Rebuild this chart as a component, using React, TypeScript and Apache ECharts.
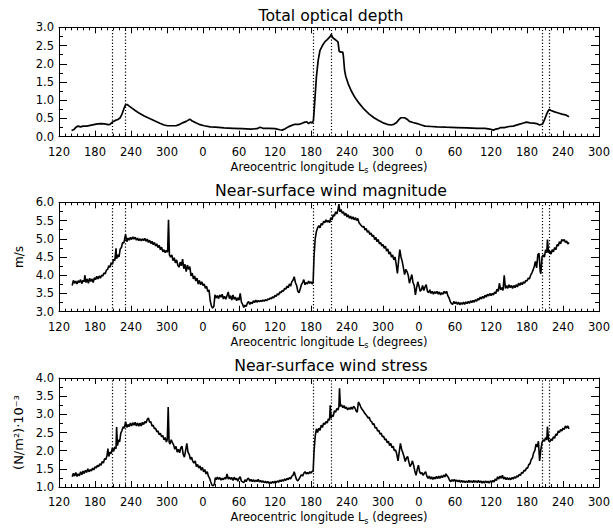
import React, { useEffect, useRef } from "react";
import * as echarts from "echarts";

const FONT = "DejaVu Sans";

// Continuous areocentric longitude (Ls + 360 * year offset) and values
const panelTitles = ["Total optical depth", "Near-surface wind magnitude", "Near-surface wind stress"];
const yNames = ["", "m/s", "(N/m²)·10⁻³"];
const yRanges: [number, number][] = [[0, 3], [3, 6], [1, 4]];
const xMin = 120;
const xMax = 1020;
const xStep = 60;
const dustStormLs = [209, 231, 543.5, 573, 925.5, 937.5];

const opticalDepth: [number, number][] = [
  [141, 0.17], [145, 0.2], [149, 0.27], [152, 0.29], [156, 0.27], [160, 0.29], [166, 0.29], [172, 0.31],
  [178, 0.33], [184, 0.35], [190, 0.36], [196, 0.35], [202, 0.33], [205, 0.34], [209, 0.4], [213, 0.44],
  [218, 0.47], [222, 0.52], [225, 0.62], [228, 0.76], [231, 0.88], [234, 0.88], [237, 0.84], [241, 0.79],
  [247, 0.72], [254, 0.64], [262, 0.57], [271, 0.5], [280, 0.43], [288, 0.37], [295, 0.32], [301, 0.3],
  [308, 0.3], [315, 0.3], [320, 0.33], [326, 0.38], [332, 0.42], [338, 0.48], [342, 0.43], [348, 0.38],
  [355, 0.33], [362, 0.3], [372, 0.27], [381, 0.26], [395, 0.24], [410, 0.23], [425, 0.22], [440, 0.21],
  [450, 0.22], [455, 0.26], [460, 0.23], [470, 0.23], [480, 0.22], [488, 0.19], [492, 0.18], [497, 0.22],
  [502, 0.27], [508, 0.31], [513, 0.34], [520, 0.34], [524, 0.36], [530, 0.4], [533, 0.41], [536, 0.36],
  [539, 0.4], [542, 0.38], [544, 0.44], [546, 0.9], [549, 1.64], [552, 2.1], [555, 2.37], [559, 2.5],
  [563, 2.6], [567, 2.66], [571, 2.73], [574, 2.8], [576, 2.72], [579, 2.68], [582, 2.64], [585, 2.6],
  [587, 2.34], [590, 2.32], [593, 2.32], [594, 2.2], [596, 1.82], [598, 1.65], [602, 1.45], [607, 1.26],
  [613, 1.08], [620, 0.92], [628, 0.76], [637, 0.62], [645, 0.52], [652, 0.45], [660, 0.38], [667, 0.34],
  [673, 0.32], [678, 0.34], [682, 0.38], [686, 0.46], [690, 0.52], [696, 0.52], [700, 0.48], [704, 0.42],
  [710, 0.39], [717, 0.36], [724, 0.32], [730, 0.29], [740, 0.28], [750, 0.27], [765, 0.26], [783, 0.25],
  [800, 0.24], [817, 0.23], [830, 0.23], [838, 0.21], [844, 0.18], [848, 0.21], [852, 0.22], [856, 0.25],
  [862, 0.25], [870, 0.28], [877, 0.29], [885, 0.33], [893, 0.37], [899, 0.4], [905, 0.38], [911, 0.37],
  [916, 0.36], [921, 0.32], [926, 0.35], [929, 0.46], [932, 0.59], [935, 0.7], [937, 0.75], [940, 0.72],
  [946, 0.68], [952, 0.65], [958, 0.62], [964, 0.6], [970, 0.55],
];

const windMagnitude: [number, number][] = [
  [142, 3.72], [144, 3.86], [146, 3.78], [148, 3.84], [150, 3.76], [152, 3.85], [154, 3.8], [156, 3.88],
  [158, 3.77], [160, 3.86], [162, 3.82], [163, 4.0], [165, 3.8], [167, 3.9], [169, 3.78], [171, 3.92],
  [173, 3.83], [175, 3.9], [177, 3.8], [179, 3.93], [181, 3.88], [183, 3.97], [185, 3.9], [187, 3.98],
  [189, 3.92], [191, 4.0], [193, 3.98], [195, 4.06], [197, 4.04], [199, 4.14], [201, 4.16], [203, 4.26],
  [205, 4.22], [207, 4.34], [209, 4.3], [211, 4.44], [213, 4.4], [215, 4.74], [216, 4.45], [218, 4.56],
  [220, 4.5], [222, 4.72], [224, 4.76], [226, 4.9], [228, 4.88], [230, 5.04], [231, 5.12], [233, 4.92],
  [235, 5.02], [237, 4.96], [239, 5.04], [241, 4.98], [243, 5.05], [245, 4.99], [247, 5.04], [249, 4.96],
  [251, 5.02], [253, 4.95], [255, 5.0], [257, 4.94], [259, 5.0], [261, 4.95], [263, 5.01], [265, 4.93],
  [267, 4.99], [269, 4.9], [271, 4.96], [273, 4.87], [275, 4.93], [277, 4.84], [279, 4.9], [281, 4.8],
  [283, 4.86], [285, 4.76], [287, 4.82], [289, 4.7], [291, 4.77], [293, 4.64], [295, 4.7], [297, 4.62],
  [299, 4.68], [301, 4.63], [302.5, 5.52], [304, 4.56], [306, 4.5], [308, 4.56], [310, 4.4], [312, 4.48],
  [314, 4.34], [316, 4.42], [318, 4.28], [320, 4.22], [322, 4.36], [324, 4.26], [326, 4.44], [328, 4.18],
  [330, 4.3], [332, 4.1], [334, 4.28], [336, 4.16], [338, 4.24], [340, 3.98], [342, 4.06], [344, 3.9],
  [346, 3.98], [348, 3.84], [350, 3.92], [352, 3.76], [354, 3.86], [356, 3.74], [358, 3.82], [360, 3.72],
  [362, 3.76], [364, 3.64], [366, 3.7], [368, 3.55], [370, 3.6], [372, 3.3], [374, 3.16], [376, 3.1],
  [378, 3.14], [380, 3.46], [382, 3.38], [384, 3.44], [386, 3.36], [388, 3.46], [390, 3.4], [392, 3.48],
  [394, 3.35], [396, 3.42], [398, 3.34], [400, 3.44], [402, 3.54], [404, 3.36], [406, 3.44], [408, 3.32],
  [410, 3.46], [412, 3.34], [414, 3.4], [416, 3.3], [418, 3.38], [420, 3.32], [422, 3.5], [424, 3.26],
  [426, 3.2], [428, 3.12], [430, 3.18], [432, 3.14], [434, 3.24], [436, 3.28], [438, 3.2], [440, 3.26],
  [442, 3.22], [444, 3.3], [446, 3.25], [448, 3.32], [450, 3.26], [452, 3.31], [454, 3.27], [456, 3.31],
  [458, 3.28], [460, 3.32], [462, 3.29], [464, 3.33], [466, 3.3], [468, 3.35], [470, 3.33], [472, 3.38],
  [474, 3.35], [476, 3.41], [478, 3.38], [480, 3.45], [482, 3.42], [484, 3.49], [486, 3.46], [488, 3.54],
  [490, 3.52], [492, 3.58], [494, 3.56], [496, 3.64], [498, 3.62], [500, 3.7], [502, 3.66], [504, 3.76],
  [506, 3.7], [508, 3.82], [510, 3.86], [512, 3.96], [514, 3.8], [516, 3.72], [518, 3.56], [520, 3.52],
  [522, 3.62], [524, 3.74], [526, 3.8], [528, 3.88], [530, 3.74], [532, 3.8], [534, 3.76], [536, 3.84],
  [538, 3.78], [540, 3.82], [542, 3.76], [543.5, 3.8], [545, 4.5], [547, 5.0], [549, 5.2], [551, 5.3],
  [553, 5.36], [555, 5.3], [557, 5.42], [559, 5.38], [561, 5.48], [563, 5.44], [565, 5.52], [567, 5.46],
  [569, 5.5], [571, 5.44], [573, 5.58], [575, 5.52], [577, 5.66], [579, 5.62], [581, 5.74], [583, 5.68],
  [585, 5.8], [586.5, 5.95], [588, 5.74], [590, 5.8], [592, 5.7], [594, 5.74], [596, 5.64], [598, 5.7],
  [600, 5.6], [602, 5.66], [604, 5.56], [606, 5.62], [608, 5.54], [610, 5.6], [612, 5.52], [614, 5.58],
  [616, 5.5], [618, 5.56], [620, 5.44], [622, 5.4], [624, 5.36], [626, 5.32], [628, 5.34], [630, 5.24],
  [632, 5.28], [634, 5.18], [636, 5.22], [638, 5.12], [640, 5.16], [642, 5.06], [644, 5.1], [646, 4.98],
  [648, 5.04], [650, 4.92], [652, 4.98], [654, 4.86], [656, 4.9], [658, 4.8], [660, 4.84], [662, 4.74],
  [664, 4.8], [666, 4.66], [668, 4.72], [670, 4.58], [672, 4.64], [674, 4.5], [676, 4.56], [678, 4.42],
  [680, 4.5], [682, 4.3], [684, 4.05], [686, 4.4], [688, 4.7], [690, 4.5], [692, 4.38], [694, 4.2],
  [696, 4.02], [698, 4.16], [700, 4.1], [702, 4.0], [704, 3.78], [706, 3.9], [708, 4.02], [710, 3.8],
  [712, 3.72], [714, 3.46], [716, 3.66], [718, 3.82], [720, 3.7], [722, 3.56], [724, 3.6], [726, 3.72],
  [728, 3.58], [730, 3.68], [732, 3.74], [734, 3.56], [736, 3.52], [738, 3.6], [740, 3.5], [742, 3.56],
  [744, 3.48], [746, 3.55], [748, 3.5], [750, 3.56], [752, 3.48], [754, 3.54], [756, 3.46], [758, 3.52],
  [760, 3.48], [762, 3.56], [764, 3.5], [766, 3.56], [768, 3.44], [770, 3.38], [772, 3.28], [774, 3.22],
  [776, 3.2], [778, 3.28], [780, 3.22], [782, 3.27], [784, 3.2], [786, 3.26], [788, 3.19], [790, 3.25],
  [792, 3.2], [794, 3.26], [796, 3.2], [798, 3.27], [800, 3.22], [802, 3.28], [804, 3.23], [806, 3.3],
  [808, 3.25], [810, 3.31], [812, 3.26], [814, 3.33], [816, 3.29], [818, 3.36], [820, 3.32], [822, 3.4],
  [824, 3.35], [826, 3.42], [828, 3.37], [830, 3.45], [832, 3.4], [834, 3.48], [836, 3.43], [838, 3.5],
  [840, 3.44], [842, 3.5], [844, 3.46], [846, 3.54], [848, 3.5], [850, 3.62], [852, 3.56], [854, 3.78],
  [856, 3.6], [858, 3.66], [860, 3.58], [862, 4.0], [864, 3.64], [866, 3.72], [868, 3.64], [870, 3.74],
  [872, 3.66], [874, 3.72], [876, 3.64], [878, 3.72], [880, 3.66], [882, 3.74], [884, 3.68], [886, 3.78],
  [888, 3.72], [890, 3.8], [892, 3.74], [894, 3.82], [896, 3.78], [898, 3.86], [900, 3.84], [902, 3.92],
  [904, 3.9], [906, 4.0], [908, 4.06], [910, 4.14], [912, 4.24], [914, 4.38], [916, 4.2], [918, 4.56],
  [920, 4.6], [922, 4.1], [923, 4.04], [925, 4.5], [927, 4.56], [929, 4.5], [931, 4.7], [933, 4.62],
  [934, 4.98], [936, 4.62], [938, 4.66], [940, 4.58], [942, 4.7], [944, 4.64], [946, 4.76], [948, 4.7],
  [950, 4.84], [952, 4.8], [954, 4.92], [956, 4.86], [958, 4.98], [960, 4.94], [962, 4.98], [964, 4.9],
  [966, 4.94], [968, 4.86], [970, 4.9],
];

const windStress: [number, number][] = [
  [142, 1.28], [144, 1.38], [146, 1.3], [148, 1.4], [150, 1.29], [152, 1.36], [154, 1.31], [156, 1.42],
  [158, 1.34], [160, 1.44], [162, 1.37], [164, 1.46], [166, 1.4], [168, 1.5], [170, 1.42], [172, 1.48],
  [174, 1.44], [176, 1.52], [178, 1.47], [180, 1.56], [182, 1.52], [184, 1.6], [186, 1.56], [188, 1.64],
  [190, 1.6], [192, 1.7], [194, 1.66], [196, 1.78], [198, 1.76], [200, 1.86], [201.5, 2.06], [203, 1.84],
  [205, 1.96], [207, 1.92], [209, 2.08], [211, 1.98], [213, 2.1], [215, 2.05], [216, 2.65], [217.5, 2.14],
  [219, 2.3], [221, 2.24], [223, 2.48], [225, 2.56], [227, 2.66], [229, 2.62], [231, 2.8], [233, 2.64],
  [235, 2.72], [237, 2.66], [239, 2.76], [241, 2.68], [243, 2.77], [245, 2.7], [247, 2.78], [249, 2.68],
  [251, 2.76], [253, 2.67], [255, 2.76], [257, 2.68], [259, 2.78], [261, 2.72], [263, 2.8], [265, 2.76],
  [267, 2.86], [269, 2.9], [271, 2.78], [273, 2.8], [275, 2.68], [277, 2.7], [279, 2.6], [281, 2.62],
  [283, 2.52], [285, 2.54], [287, 2.44], [289, 2.48], [291, 2.38], [293, 2.42], [295, 2.3], [297, 2.36],
  [299, 2.24], [300.5, 2.3], [302, 3.2], [303.5, 2.24], [305, 2.18], [307, 2.3], [309, 2.22], [311, 2.16],
  [313, 2.04], [315, 2.12], [317, 1.96], [319, 2.04], [321, 1.94], [323, 2.08], [325, 2.12], [327, 1.9],
  [329, 1.82], [331, 2.0], [333, 2.2], [335, 1.96], [337, 1.9], [339, 1.76], [341, 1.82], [343, 1.7],
  [345, 1.66], [347, 1.72], [349, 1.56], [351, 1.62], [353, 1.52], [355, 1.58], [357, 1.46], [359, 1.54],
  [361, 1.42], [363, 1.48], [365, 1.36], [367, 1.42], [369, 1.3], [371, 1.24], [373, 1.14], [375, 1.05],
  [377, 1.03], [379, 1.08], [380.5, 1.26], [382, 1.2], [384, 1.27], [386, 1.21], [388, 1.26], [390, 1.19],
  [392, 1.24], [394, 1.2], [396, 1.26], [398, 1.22], [400, 1.36], [402, 1.22], [404, 1.27], [406, 1.21],
  [408, 1.26], [410, 1.18], [412, 1.27], [414, 1.2], [416, 1.24], [418, 1.16], [420, 1.24], [422, 1.28],
  [424, 1.16], [426, 1.14], [428, 1.12], [430, 1.2], [432, 1.15], [434, 1.22], [436, 1.24], [438, 1.16],
  [440, 1.21], [442, 1.15], [444, 1.2], [446, 1.14], [448, 1.19], [450, 1.15], [452, 1.21], [454, 1.14],
  [456, 1.18], [458, 1.13], [460, 1.17], [462, 1.12], [464, 1.16], [466, 1.11], [468, 1.15], [470, 1.1],
  [472, 1.14], [474, 1.1], [476, 1.15], [478, 1.11], [480, 1.16], [482, 1.12], [484, 1.17], [486, 1.13],
  [488, 1.19], [490, 1.15], [492, 1.2], [494, 1.16], [496, 1.22], [498, 1.18], [500, 1.24], [502, 1.2],
  [504, 1.26], [506, 1.22], [508, 1.3], [510, 1.32], [512, 1.42], [514, 1.3], [516, 1.2], [518, 1.17],
  [520, 1.22], [522, 1.28], [524, 1.34], [526, 1.3], [528, 1.38], [530, 1.42], [532, 1.36], [534, 1.4],
  [536, 1.36], [538, 1.42], [540, 1.38], [542, 1.44], [543.5, 1.42], [545, 1.96], [547, 2.4], [549, 2.6],
  [551, 2.5], [553, 2.62], [555, 2.56], [557, 2.7], [559, 2.64], [561, 2.76], [563, 2.72], [565, 2.8],
  [567, 2.76], [569, 2.88], [571, 2.84], [572, 3.25], [573.5, 2.9], [575, 2.98], [577, 2.94], [579, 3.1],
  [581, 3.06], [583, 3.16], [585, 3.12], [586.5, 3.22], [587.5, 3.72], [589, 3.22], [591, 3.26], [593, 3.18],
  [595, 3.24], [597, 3.16], [599, 3.2], [601, 3.12], [603, 3.18], [605, 3.14], [607, 3.2], [609, 3.14],
  [611, 3.22], [613, 3.18], [615, 3.1], [617, 3.06], [619, 3.34], [621, 3.28], [623, 3.2], [625, 3.14],
  [627, 3.1], [629, 3.04], [631, 3.0], [633, 2.96], [635, 2.9], [637, 2.92], [639, 2.82], [641, 2.8],
  [643, 2.72], [645, 2.74], [647, 2.62], [649, 2.64], [651, 2.54], [653, 2.56], [655, 2.46], [657, 2.48],
  [659, 2.38], [661, 2.4], [663, 2.3], [665, 2.32], [667, 2.22], [669, 2.26], [671, 2.14], [673, 2.2],
  [675, 2.08], [677, 2.12], [679, 2.0], [681, 2.02], [683, 1.9], [685, 1.72], [687, 1.96], [689, 2.2],
  [691, 2.04], [693, 1.94], [695, 1.84], [697, 1.7], [699, 1.8], [701, 1.84], [703, 1.7], [705, 1.56],
  [707, 1.62], [709, 1.72], [711, 1.6], [713, 1.44], [715, 1.32], [717, 1.48], [719, 1.6], [721, 1.42],
  [723, 1.36], [725, 1.4], [727, 1.32], [729, 1.38], [731, 1.42], [733, 1.3], [735, 1.24], [737, 1.3],
  [739, 1.22], [741, 1.28], [743, 1.21], [745, 1.27], [747, 1.22], [749, 1.29], [751, 1.23], [753, 1.3],
  [755, 1.24], [757, 1.31], [759, 1.26], [761, 1.33], [763, 1.28], [765, 1.36], [767, 1.3], [769, 1.26],
  [771, 1.18], [773, 1.15], [775, 1.2], [777, 1.16], [779, 1.21], [781, 1.15], [783, 1.19], [785, 1.14],
  [787, 1.19], [789, 1.13], [791, 1.18], [793, 1.13], [795, 1.17], [797, 1.12], [799, 1.17], [801, 1.12],
  [803, 1.18], [805, 1.13], [807, 1.17], [809, 1.12], [811, 1.18], [813, 1.13], [815, 1.17], [817, 1.12],
  [819, 1.18], [821, 1.12], [823, 1.17], [825, 1.11], [827, 1.16], [829, 1.11], [831, 1.17], [833, 1.12],
  [835, 1.16], [837, 1.11], [839, 1.17], [841, 1.13], [843, 1.18], [845, 1.14], [847, 1.22], [849, 1.18],
  [851, 1.28], [853, 1.22], [855, 1.3], [857, 1.24], [859, 1.32], [861, 1.22], [863, 1.27], [865, 1.2],
  [867, 1.26], [869, 1.2], [871, 1.25], [873, 1.2], [875, 1.26], [877, 1.22], [879, 1.28], [881, 1.24],
  [883, 1.31], [885, 1.28], [887, 1.35], [889, 1.32], [891, 1.4], [893, 1.38], [895, 1.46], [897, 1.44],
  [899, 1.52], [901, 1.52], [903, 1.62], [905, 1.64], [907, 1.76], [909, 1.8], [911, 1.94], [913, 2.0],
  [915, 2.18], [917, 2.1], [919, 2.26], [921, 1.72], [923, 2.02], [925, 2.22], [927, 2.3], [929, 2.26],
  [931, 2.36], [933, 2.3], [934, 2.66], [936, 2.28], [938, 2.24], [940, 2.32], [942, 2.28], [944, 2.38],
  [946, 2.34], [948, 2.46], [950, 2.42], [952, 2.54], [954, 2.5], [956, 2.58], [958, 2.54], [960, 2.62],
  [962, 2.58], [964, 2.68], [966, 2.62], [968, 2.68], [970, 2.6],
];

const seriesData = [opticalDepth, windMagnitude, windStress];
const lineWidths = [1.7, 1.6, 1.6];
const yNameSizes = [12, 12, 13];

const gridBoxes = [
  { top: 27.3, height: 109.4 },
  { top: 202.3, height: 109.4 },
  { top: 378, height: 109 },
];

export default function App() {
  const ref = useRef<HTMLDivElement>(null);

  useEffect(() => {
    if (!ref.current) return;
    const chart = echarts.init(ref.current, null, { renderer: "svg" });

    const black = "#000";
    const txt = { color: black, fontFamily: FONT, fontSize: 11.5 };
    const xLabel = (v: number) => String(((v % 360) + 360) % 360);

    const grid: any[] = [];
    const xAxis: any[] = [];
    const yAxis: any[] = [];
    const series: any[] = [];
    const graphic: any[] = [];

    gridBoxes.forEach((g, i) => {
      grid.push({ left: 59, right: 10.3, top: g.top, height: g.height, containLabel: false });
      const xCommon = {
        type: "value",
        gridIndex: i,
        min: xMin,
        max: xMax,
        interval: xStep,
        axisLine: { show: true, onZero: false, lineStyle: { color: black, width: 1 } },
        axisTick: { show: true, inside: true, length: 6, lineStyle: { color: black, width: 1 } },
        minorTick: { show: true, splitNumber: 6, length: 3, lineStyle: { color: black, width: 1 } },
        splitLine: { show: false },
        minorSplitLine: { show: false },
      };
      xAxis.push({
        ...xCommon,
        position: "bottom",
        axisLabel: { show: true, formatter: xLabel, margin: 9, ...txt },
        name: "Areocentric longitude L{sub|s} (degrees)",
        nameLocation: "middle",
        nameGap: 22,
        nameTextStyle: {
          ...txt,
          lineHeight: 16,
          rich: { sub: { fontSize: 8, lineHeight: 8, verticalAlign: "bottom", fontFamily: FONT, color: black } },
        },
      });
      xAxis.push({ ...xCommon, position: "top", axisLabel: { show: false } });

      const [ymin, ymax] = yRanges[i];
      const yCommon = {
        type: "value",
        gridIndex: i,
        min: ymin,
        max: ymax,
        interval: 0.5,
        axisLine: { show: true, onZero: false, lineStyle: { color: black, width: 1 } },
        axisTick: { show: true, inside: true, length: 8, lineStyle: { color: black, width: 1 } },
        minorTick: { show: true, splitNumber: 2, length: 4, lineStyle: { color: black, width: 1 } },
        splitLine: { show: false },
        minorSplitLine: { show: false },
      };
      yAxis.push({
        ...yCommon,
        position: "left",
        axisLabel: { show: true, formatter: (v: number) => v.toFixed(1), margin: 5, ...txt },
        name: yNames[i],
        nameLocation: "middle",
        nameRotate: 90,
        nameGap: i === 2 ? 29 : 32,
        nameTextStyle: { ...txt, fontSize: yNameSizes[i] },
      });
      yAxis.push({ ...yCommon, position: "right", axisLabel: { show: false } });

      series.push({
        type: "line",
        xAxisIndex: 2 * i,
        yAxisIndex: 2 * i,
        data: seriesData[i],
        showSymbol: false,
        symbol: "none",
        lineStyle: { color: black, width: lineWidths[i] },
        markLine: {
          silent: true,
          symbol: ["none", "none"],
          label: { show: false },
          lineStyle: { color: black, type: [1.2, 2], width: 1.2 },
          data: dustStormLs.map((x) => ({ xAxis: x })),
        },
      });

      graphic.push({
        type: "text",
        x: 331,
        y: [15, 190.5, 365.5][i],
        style: {
          text: panelTitles[i],
          fill: black,
          fontFamily: FONT,
          fontSize: 15.7,
          align: "center",
          verticalAlign: "middle",
        },
      });
    });

    chart.setOption({
      animation: false,
      backgroundColor: "#fff",
      grid,
      xAxis,
      yAxis,
      series,
      graphic,
    });

    return () => chart.dispose();
  }, []);

  return (
    <div
      ref={ref}
      style={{ position: "fixed", left: 0, top: 0, width: 613, height: 529, background: "#fff" }}
    />
  );
}
